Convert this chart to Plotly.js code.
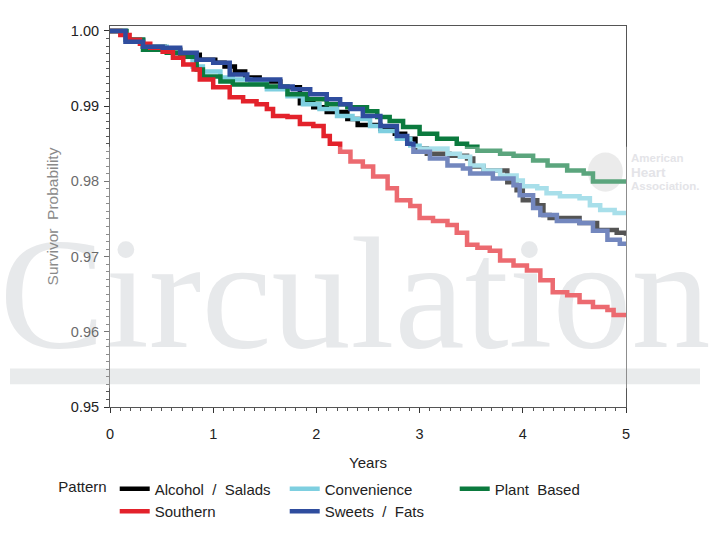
<!DOCTYPE html>
<html><head><meta charset="utf-8">
<script src="https://cdn.plot.ly/plotly-3.0.1.min.js"></script>
<style>html,body{margin:0;padding:0;background:#fff}#chart{width:720px;height:540px}</style>
</head><body><div id="chart"></div>
<script>
// Kaplan-Meier survivor probability by dietary pattern
const alcoholYears = [0, 0.15, 0.32, 0.53, 0.68, 0.87, 1.02, 1.11, 1.21, 1.31, 1.45, 1.65, 1.84, 1.97, 2.10, 2.30, 2.40, 2.62, 2.76, 2.86, 2.96, 3.07, 3.29, 3.46, 3.52, 3.62, 3.85, 3.94, 4.00, 4.14, 4.20, 4.26, 4.55, 4.72, 4.91, 5.0];
const alcoholSurv  = [1.0, 0.99882, 0.99789, 0.99750, 0.99684, 0.99618, 0.99579, 0.99526, 0.99460, 0.99382, 0.99329, 0.99250, 0.99039, 0.98987, 0.98921, 0.98829, 0.98750, 0.98697, 0.98632, 0.98566, 0.98434, 0.98368, 0.98342, 0.98303, 0.98197, 0.98145, 0.97987, 0.97882, 0.97750, 0.97684, 0.97553, 0.97513, 0.97447, 0.97355, 0.97316, 0.97276];

const convenienceYears = [0, 0.15, 0.32, 0.55, 0.65, 0.80, 0.90, 1.07, 1.19, 1.36, 1.52, 1.72, 1.87, 2.03, 2.20, 2.35, 2.52, 2.62, 2.78, 2.91, 3.00, 3.27, 3.39, 3.49, 3.62, 3.78, 3.94, 4.00, 4.14, 4.23, 4.36, 4.55, 4.65, 4.75, 4.89, 5.0];
const convenienceSurv  = [1.0, 0.99882, 0.99789, 0.99724, 0.99658, 0.99526, 0.99460, 0.99382, 0.99355, 0.99316, 0.99224, 0.99132, 0.99026, 0.98961, 0.98868, 0.98829, 0.98737, 0.98671, 0.98566, 0.98474, 0.98434, 0.98368, 0.98329, 0.98211, 0.98145, 0.98079, 0.98013, 0.97934, 0.97908, 0.97842, 0.97803, 0.97776, 0.97684, 0.97618, 0.97579, 0.97579];

const plantYears = [0, 0.16, 0.32, 0.55, 0.68, 0.84, 0.90, 1.07, 1.19, 1.36, 1.52, 1.72, 1.91, 2.10, 2.30, 2.49, 2.59, 2.71, 2.84, 3.00, 3.17, 3.36, 3.46, 3.56, 3.78, 3.91, 4.10, 4.24, 4.43, 4.59, 4.68, 5.0];
const plantSurv  = [1.0, 0.99882, 0.99750, 0.99711, 0.99658, 0.99487, 0.99395, 0.99329, 0.99289, 0.99289, 0.99263, 0.99158, 0.99092, 0.99026, 0.98987, 0.98934, 0.98855, 0.98803, 0.98724, 0.98632, 0.98566, 0.98500, 0.98461, 0.98408, 0.98368, 0.98342, 0.98276, 0.98211, 0.98145, 0.98105, 0.98000, 0.97974];

const southernYears = [0, 0.10, 0.19, 0.29, 0.39, 0.51, 0.61, 0.71, 0.81, 0.87, 1.00, 1.16, 1.29, 1.42, 1.52, 1.58, 1.72, 1.84, 1.97, 2.07, 2.13, 2.23, 2.33, 2.45, 2.55, 2.69, 2.78, 2.91, 3.00, 3.13, 3.27, 3.36, 3.46, 3.56, 3.68, 3.78, 3.91, 4.04, 4.17, 4.29, 4.43, 4.55, 4.68, 4.82, 4.88, 5.0];
const southernSurv  = [1.0, 0.99947, 0.99882, 0.99829, 0.99776, 0.99724, 0.99645, 0.99553, 0.99487, 0.99355, 0.99250, 0.99118, 0.99066, 0.99026, 0.98961, 0.98868, 0.98855, 0.98763, 0.98737, 0.98605, 0.98500, 0.98395, 0.98263, 0.98197, 0.98066, 0.97908, 0.97750, 0.97671, 0.97513, 0.97474, 0.97421, 0.97316, 0.97158, 0.97118, 0.97079, 0.96947, 0.96882, 0.96816, 0.96684, 0.96526, 0.96487, 0.96395, 0.96329, 0.96290, 0.96224, 0.96224];

const sweetsYears = [0, 0.15, 0.32, 0.51, 0.68, 0.84, 1.00, 1.16, 1.33, 1.52, 1.65, 1.77, 1.94, 2.10, 2.23, 2.33, 2.45, 2.62, 2.78, 2.88, 2.94, 3.10, 3.27, 3.42, 3.49, 3.71, 3.91, 3.97, 4.10, 4.17, 4.33, 4.55, 4.68, 4.82, 4.94, 5.0];
const sweetsSurv  = [1.0, 0.99855, 0.99789, 0.99776, 0.99710, 0.99618, 0.99579, 0.99421, 0.99355, 0.99355, 0.99263, 0.99224, 0.99158, 0.99092, 0.99026, 0.98961, 0.98868, 0.98737, 0.98605, 0.98500, 0.98395, 0.98303, 0.98211, 0.98171, 0.98105, 0.98039, 0.97947, 0.97816, 0.97645, 0.97553, 0.97474, 0.97447, 0.97342, 0.97224, 0.97171, 0.97171];

const seriesNames = ['Alcohol\u00a0\u00a0/\u00a0\u00a0Salads', 'Convenience', 'Plant\u00a0\u00a0Based', 'Southern', 'Sweets\u00a0\u00a0/\u00a0\u00a0Fats'];
const seriesColors = ['#000000', '#7ecfe0', '#0b7a3e', '#e3222b', '#2f4d9e'];
const yTickVals = [0.95, 0.96, 0.97, 0.98, 0.99, 1.00];
const yTickText = ['0.95', '0.96', '0.97', '0.98', '0.99', '1.00'];
const xTickVals = [0, 1, 2, 3, 4, 5];

const xs = [alcoholYears, convenienceYears, plantYears, southernYears, sweetsYears];
const ys = [alcoholSurv, convenienceSurv, plantSurv, southernSurv, sweetsSurv];

const traces = xs.map((x, i) => ({
  type: 'scatter', mode: 'lines', x: x, y: ys[i], name: seriesNames[i],
  line: {shape: 'hv', width: 4.5, color: seriesColors[i]},
  hoverinfo: 'skip'
}));

const FONT = 'Liberation Sans, Arial, sans-serif';
const LOGO = '#e4e4e8';

const layout = {
  width: 720, height: 540,
  margin: {l: 110, r: 94, t: 26, b: 129},
  paper_bgcolor: '#ffffff', plot_bgcolor: 'rgba(0,0,0,0)',
  font: {family: FONT, size: 15, color: '#222'},
  showlegend: true,
  xaxis: {
    range: [0, 5], tickvals: xTickVals, ticks: 'outside', ticklen: 5, tickcolor: '#333',
    showgrid: false, zeroline: false, showline: true, linecolor: '#555', linewidth: 1, mirror: true,
    tickfont: {size: 14.5, color: '#222'}, ticklabelstandoff: 9,
    minor: {dtick: 0.1, ticks: 'outside', ticklen: 3, tickcolor: '#555', showgrid: false},
    title: {text: 'Years', font: {size: 15, color: '#222'}, standoff: 16}
  },
  yaxis: {
    range: [0.95, 1.00066], tickvals: yTickVals, ticktext: yTickText, ticks: 'outside', ticklen: 5, tickcolor: '#333',
    showgrid: false, zeroline: false, showline: true, linecolor: '#555', linewidth: 1, mirror: true,
    tickfont: {size: 14.5, color: '#222'}, ticklabelstandoff: 2,
    minor: {dtick: 0.001, ticks: 'outside', ticklen: 3, tickcolor: '#555', showgrid: false},
    title: {text: 'Survivor\u00a0\u00a0Probability', font: {size: 15.5, color: '#8a8a8a'}, standoff: 8}
  },
  legend: {
    orientation: 'h', x: -0.104, xanchor: 'left', y: -0.172, yanchor: 'top',
    entrywidth: 125, traceorder: 'normal', bgcolor: 'rgba(0,0,0,0)',
    font: {size: 15, color: '#222'},
    title: {text: 'Pattern', side: 'left', font: {size: 15, color: '#222'}}
  },
  shapes: [
    // watermark word, drawn beneath the curves
    {type: 'rect', xref: 'paper', yref: 'paper', x0: -0.1938, x1: 1.1434, y0: 0.157, y1: 0.527,
     layer: 'below', line: {width: 0}, fillcolor: 'rgba(0,0,0,0)',
     label: {text: 'Circulation', textposition: 'middle center',
             font: {family: 'Liberation Serif, Times New Roman, serif', size: 158, color: '#dcdee1'}}},
    // watermark bar
    {type: 'rect', xref: 'paper', yref: 'paper', x0: -0.1938, x1: 1.1434, y0: 0.0597, y1: 0.1013,
     layer: 'below', line: {width: 0}, fillcolor: '#dfe1e3'},
    // logo blob
    {type: 'circle', xref: 'paper', yref: 'paper', x0: 0.926, x1: 0.994, y0: 0.565, y1: 0.668,
     layer: 'below', line: {width: 0}, fillcolor: '#e2e2e2'},
    // translucent watermark wash
    {type: 'rect', xref: 'paper', yref: 'paper', x0: -0.2132, x1: 1.1822, y0: 0.049, y1: 0.683,
     layer: 'above', line: {width: 0}, fillcolor: 'rgba(255,255,255,0.33)'}
  ],
  annotations: [
    {xref: 'paper', yref: 'paper', x: 1.0078, y: 0.6533, xanchor: 'left', yanchor: 'middle', showarrow: false, borderpad: 0,
     text: '<b>American</b>', font: {family: FONT, size: 11.5, color: LOGO}},
    {xref: 'paper', yref: 'paper', x: 1.0078, y: 0.6156, xanchor: 'left', yanchor: 'middle', showarrow: false, borderpad: 0,
     text: '<b>Heart</b>', font: {family: FONT, size: 13.5, color: LOGO}},
    {xref: 'paper', yref: 'paper', x: 1.0078, y: 0.5792, xanchor: 'left', yanchor: 'middle', showarrow: false, borderpad: 0,
     text: '<b>Association.</b>', font: {family: FONT, size: 11.5, color: LOGO}}
  ]
};

Plotly.newPlot('chart', traces, layout, {staticPlot: true, displayModeBar: false});
</script>
</body></html>
